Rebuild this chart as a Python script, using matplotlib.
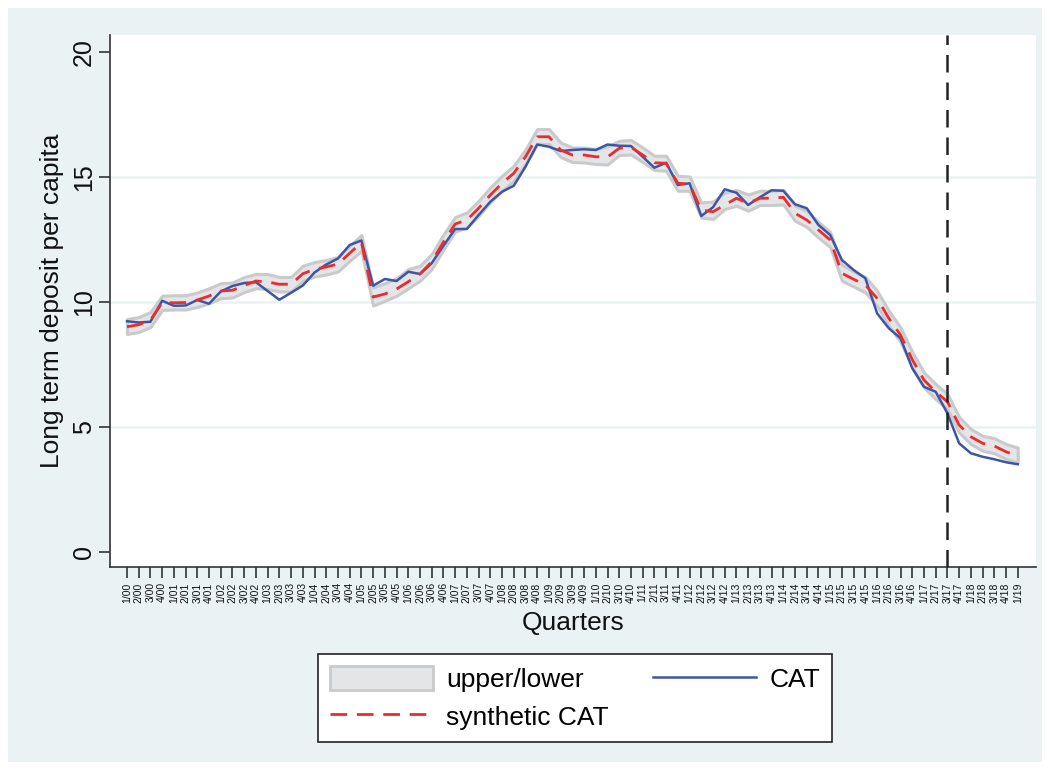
import numpy as np
import matplotlib
matplotlib.use("Agg")
import matplotlib.pyplot as plt
from matplotlib.patches import Patch, Rectangle
from matplotlib.lines import Line2D

plt.rcParams['font.family'] = ['Liberation Sans', 'DejaVu Sans']

# quarter labels 1/00 ... 1/19
quarters = []
for y in range(2000, 2020):
    for q in range(1, 5):
        quarters.append(str(q) + '/' + str(y % 100).zfill(2))
quarters = quarters[:77]

cat = [9.23, 9.18, 9.21, 10.05, 9.85, 9.86, 10.08, 9.93, 10.42, 10.64,
       10.76, 10.79, 10.44, 10.09, 10.37, 10.66, 11.18, 11.50, 11.74, 12.28,
       12.46, 10.65, 10.92, 10.84, 11.21, 11.12, 11.55, 12.25, 12.92, 12.92,
       13.48, 14.01, 14.41, 14.65, 15.41, 16.30, 16.21, 16.04, 16.08, 16.11,
       16.08, 16.30, 16.25, 16.24, 15.81, 15.37, 15.57, 14.68, 14.75, 13.44,
       13.79, 14.51, 14.37, 13.88, 14.19, 14.47, 14.45, 13.91, 13.75, 13.08,
       12.68, 11.68, 11.28, 10.95, 9.55, 8.95, 8.55, 7.35, 6.61, 6.41,
       5.55, 4.35, 3.95, 3.81, 3.71, 3.59, 3.51]

synth = [9.01, 9.09, 9.28, 9.97, 9.97, 9.98, 10.08, 10.24, 10.44, 10.47,
         10.66, 10.84, 10.80, 10.71, 10.71, 11.13, 11.31, 11.40, 11.52, 11.95,
         12.38, 10.20, 10.32, 10.52, 10.81, 11.12, 11.61, 12.40, 13.12, 13.28,
         13.75, 14.28, 14.75, 15.15, 15.81, 16.61, 16.61, 16.08, 15.88, 15.88,
         15.81, 15.80, 16.15, 16.19, 15.88, 15.57, 15.55, 14.75, 14.72, 13.68,
         13.61, 13.88, 14.15, 13.95, 14.15, 14.15, 14.19, 13.55, 13.28, 12.88,
         12.48, 11.15, 10.91, 10.68, 10.15, 9.35, 8.68, 7.70, 6.88, 6.41,
         6.01, 5.08, 4.61, 4.35, 4.24, 4.01, 3.84]

upper = [9.32, 9.40, 9.60, 10.25, 10.27, 10.27, 10.38, 10.55, 10.75, 10.78,
         11.00, 11.12, 11.12, 11.00, 11.00, 11.45, 11.60, 11.68, 11.80, 12.25,
         12.68, 10.58, 10.75, 10.95, 11.32, 11.45, 11.92, 12.70, 13.40, 13.58,
         14.05, 14.58, 15.05, 15.45, 16.10, 16.92, 16.92, 16.38, 16.18, 16.18,
         16.12, 16.22, 16.45, 16.48, 16.18, 15.85, 15.85, 15.05, 15.02, 13.98,
         14.02, 14.38, 14.48, 14.30, 14.45, 14.45, 14.48, 13.85, 13.65, 13.20,
         12.80, 11.50, 11.22, 11.00, 10.45, 9.65, 8.98, 8.00, 7.18, 6.72,
         6.32, 5.40, 4.92, 4.65, 4.55, 4.32, 4.18]

lower = [8.72, 8.80, 9.00, 9.68, 9.70, 9.70, 9.80, 9.95, 10.15, 10.18,
         10.40, 10.55, 10.52, 10.42, 10.42, 10.85, 11.02, 11.10, 11.22, 11.65,
         12.05, 9.86, 10.05, 10.25, 10.55, 10.85, 11.32, 12.10, 12.82, 12.98,
         13.45, 14.00, 14.45, 14.85, 15.52, 16.32, 16.32, 15.80, 15.60, 15.58,
         15.52, 15.50, 15.88, 15.90, 15.60, 15.28, 15.25, 14.45, 14.45, 13.38,
         13.32, 13.72, 13.85, 13.65, 13.88, 13.88, 13.90, 13.25, 13.00, 12.58,
         12.20, 10.85, 10.62, 10.38, 9.85, 9.05, 8.40, 7.40, 6.58, 6.12,
         5.72, 4.78, 4.32, 4.05, 3.95, 3.72, 3.58]

treat_quarter = '3/17'

x = np.arange(len(quarters))

band_face = '#E4E5E6'
band_edge = '#C9CACB'
blue = '#3C56A5'
red = '#EE2A2E'
bg = '#EAF2F3'

fig = plt.figure(figsize=(10.5, 7.7), dpi=100, facecolor='white')
fig.patches.append(Rectangle((8 / 1050, 8 / 770), 1034 / 1050, 754 / 770,
                             transform=fig.transFigure, facecolor=bg,
                             edgecolor='none', zorder=-10))

ax = fig.add_axes([110 / 1050, 1 - 567 / 770, 926 / 1050, 532 / 770])
ax.set_facecolor('white')

ax.fill_between(x, lower, upper, facecolor=band_face, edgecolor=band_edge,
                linewidth=2.2, zorder=2)
ax.plot(x, cat, color=blue, linewidth=1.8, zorder=3)
ax.plot(x, synth, color=red, linewidth=2.0, dashes=(6, 3.5), zorder=4)
ax.axvline(quarters.index(treat_quarter), color='#222222', linewidth=1.8,
           dashes=(7, 4), zorder=5)

for g in [5, 10, 15]:
    ax.axhline(g, color=bg, linewidth=1.8, zorder=1)

ax.set_xlim(-1.45, 77.56)
ax.set_ylim(-0.6, 20.68)

ax.set_yticks([0, 5, 10, 15, 20])
ax.set_yticklabels(['0', '5', '10', '15', '20'], rotation=90, va='center',
                   fontsize=18)
ax.set_xticks(x)
ax.set_xticklabels(quarters, rotation=90, fontsize=7.5)
ax.tick_params(axis='both', direction='out', length=8, width=1.2,
               color='#333333', labelcolor='#111111')
ax.tick_params(axis='y', pad=2)
ax.tick_params(axis='x', pad=3)

for s in ['top', 'right']:
    ax.spines[s].set_visible(False)
for s in ['left', 'bottom']:
    ax.spines[s].set_color('#333333')
    ax.spines[s].set_linewidth(1.2)

ax.set_xlabel('Quarters', fontsize=19, labelpad=6, color='#111111')
ax.set_ylabel('Long term deposit per capita', fontsize=19, labelpad=6,
              color='#111111')

handles = [Patch(facecolor=band_face, edgecolor=band_edge, linewidth=2),
           Line2D([], [], color=red, linewidth=2.0, dashes=(6, 3.5)),
           Line2D([], [], color=blue, linewidth=1.8)]
labels = ['upper/lower', 'synthetic CAT', 'CAT']
leg = fig.legend(handles, labels, loc='center',
                 bbox_to_anchor=(575 / 1050, 1 - 698 / 770), ncol=2,
                 fontsize=19, frameon=True, fancybox=False, framealpha=1,
                 edgecolor='#222222', handlelength=3.9, handleheight=1.0,
                 columnspacing=1.7, handletextpad=0.5, borderpad=0.45,
                 labelspacing=0.45)
leg.get_frame().set_linewidth(1.2)

fig.savefig('out.png', dpi=100, facecolor=fig.get_facecolor())
